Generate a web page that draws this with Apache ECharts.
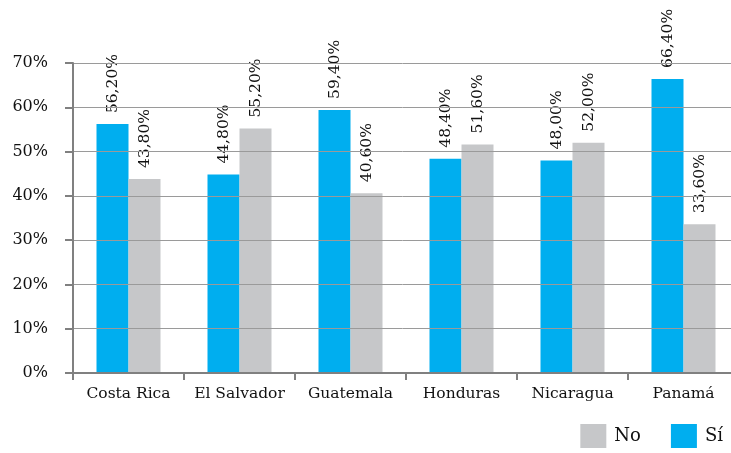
<!DOCTYPE html>
<html>
<head>
<meta charset="utf-8">
<script src="https://cdn.jsdelivr.net/npm/echarts@6/dist/echarts.min.js"></script>
<style>html,body{margin:0;padding:0;background:#fff}#c{width:731px;height:453px}</style>
</head>
<body>
<div id="c"></div>
<script>
const categories = ['Costa Rica', 'El Salvador', 'Guatemala', 'Honduras', 'Nicaragua', 'Panamá'];
const siValues = [56.2, 44.8, 59.4, 48.4, 48.0, 66.4];
const noValues = [43.8, 55.2, 40.6, 51.6, 52.0, 33.6];
const seriesNames = ['Sí', 'No'];
const legendOrder = ['No', 'Sí'];

const font = 'DejaVu Serif';
const fmt = p => p.value.toFixed(2).replace('.', ',') + '%';
const labelCfg = {
  show: true, position: 'top', rotate: 90, align: 'left', verticalAlign: 'middle',
  distance: 11, formatter: fmt, fontFamily: font, fontSize: 15.5, color: '#111'
};
const chart = echarts.init(document.getElementById('c'));
chart.setOption({
  animation: false,
  grid: { left: 73, top: 63, height: 310, width: 666, containLabel: false, outerBoundsMode: 'none' },
  legend: {
    data: legendOrder, bottom: 0, right: 3, itemWidth: 26, itemHeight: 24, itemGap: 30,
    icon: 'rect',
    textStyle: { fontFamily: font, fontSize: 18, color: '#111', padding: [0, 0, 0, 3] }
  },
  xAxis: {
    type: 'category', data: categories,
    axisLine: { lineStyle: { color: '#808080', width: 2 } },
    axisTick: { show: true, length: 7, interval: 0, lineStyle: { color: '#808080', width: 2 } },
    axisLabel: { interval: 0, fontFamily: font, fontSize: 15.5, color: '#111', margin: 13 },
    z: 3
  },
  yAxis: {
    type: 'value', min: 0, max: 70, interval: 10,
    axisLine: { show: true, lineStyle: { color: '#808080', width: 2 } },
    axisTick: { show: true, length: 8, lineStyle: { color: '#808080', width: 2 } },
    axisLabel: { formatter: '{value}%', fontFamily: font, fontSize: 16, color: '#111', margin: 25 },
    splitLine: { show: true, lineStyle: { color: '#9a9a9a', width: 1 } },
    z: 3
  },
  series: [
    { name: seriesNames[0], type: 'bar', data: siValues, barWidth: 32, barGap: '0%',
      itemStyle: { color: '#00AEEF' }, label: labelCfg },
    { name: seriesNames[1], type: 'bar', data: noValues, barWidth: 32, barGap: '0%',
      itemStyle: { color: '#C6C7C9' }, label: labelCfg }
  ]
});
</script>
</body>
</html>
